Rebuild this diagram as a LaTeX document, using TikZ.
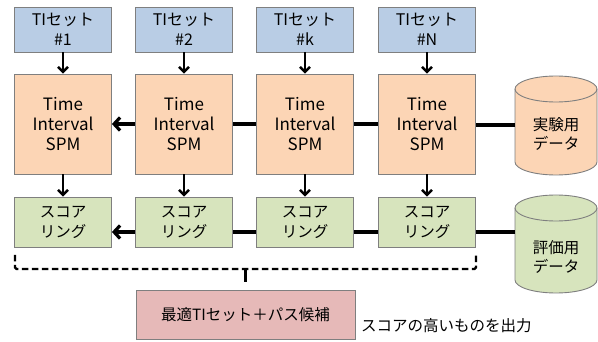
\documentclass[tikz,border=0pt]{standalone}
\usepackage{fontspec}
\setmainfont{Noto Sans CJK JP}
\usetikzlibrary{arrows.meta,calc}
\definecolor{tiblue}{HTML}{B9CDE5}
\definecolor{spmorange}{HTML}{FCD5B5}
\definecolor{scgreen}{HTML}{D7E4BD}
\definecolor{bestpink}{HTML}{E6B9B8}
\definecolor{edgegray}{HTML}{7F7F7F}
\tikzset{
  box/.style={draw=edgegray, line width=0.8pt, align=center, inner sep=0pt, font=\fontsize{15.5}{19.5}\selectfont},
  tibox/.style={box, fill=tiblue, minimum width=97pt, minimum height=45pt, font=\fontsize{16}{19.5}\selectfont},
  spmbox/.style={box, fill=spmorange, minimum width=97pt, minimum height=100pt, font=\fontsize{17}{20}\selectfont},
  scbox/.style={box, fill=scgreen, minimum width=97pt, minimum height=50pt, font=\fontsize{15.5}{20}\selectfont},
  bestbox/.style={box, fill=bestpink, minimum width=219pt, minimum height=49pt},
  dbnode/.style={align=center, inner sep=0pt, minimum width=82pt, font=\fontsize{15.5}{18.5}\selectfont},
  varrow/.style={line width=2.4pt, -{Straight Barb[length=5pt,width=10pt]}},
  harrow/.style={line width=3.2pt, -{Straight Barb[length=6pt,width=13pt]}},
  hline/.style={line width=3.2pt},
  bracket/.style={line width=2.4pt, dash pattern=on 6.5pt off 3.5pt, rounded corners=1.5pt},
  cyl/.style={draw=edgegray, line width=0.9pt}
}
\begin{document}
\begin{tikzpicture}[x=1pt,y=-1pt]
\useasboundingbox (0,0) rectangle (598,342);
% TI sets
\node[tibox] (t1) at (63,29.5) {TIセット\\\#1};
\node[tibox] (t2) at (184,29.5) {TIセット\\\#2};
\node[tibox] (t3) at (305,29.5) {TIセット\\\#k};
\node[tibox] (t4) at (427,29.5) {TIセット\\\#N};
% SPM boxes
\node[spmbox] (o1) at (63,124) {Time\\Interval\\SPM};
\node[spmbox] (o2) at (184,124) {Time\\Interval\\SPM};
\node[spmbox] (o3) at (305,124) {Time\\Interval\\SPM};
\node[spmbox] (o4) at (427,124) {Time\\Interval\\SPM};
% scoring boxes
\node[scbox] (g1) at (63,222) {スコア\\リング};
\node[scbox] (g2) at (184,222) {スコア\\リング};
\node[scbox] (g3) at (305,222) {スコア\\リング};
\node[scbox] (g4) at (427,222) {スコア\\リング};
% best box
\node[bestbox] (best) at (245.5,314.5) {最適TIセット＋パス候補};
\node[anchor=west, inner sep=0pt, font=\fontsize{15.5}{19}\selectfont] (note) at (361,326) {スコアの高いものを出力};
% cylinders
\fill[spmorange] (515,89) -- (515,162) arc[start angle=180,end angle=0,x radius=41,y radius=13] -- (597,89) arc[start angle=0,end angle=-180,x radius=41,y radius=13] -- cycle;
\draw[cyl] (515,89) -- (515,162) arc[start angle=180,end angle=0,x radius=41,y radius=13] -- (597,89);
\draw[cyl] (556,89) ellipse[x radius=41,y radius=13];
\node[dbnode] (db1) at (556,134) {実験用\\データ};
\fill[scgreen] (515,208) -- (515,280) arc[start angle=180,end angle=0,x radius=41,y radius=13] -- (597,208) arc[start angle=0,end angle=-180,x radius=41,y radius=13] -- cycle;
\draw[cyl] (515,208) -- (515,280) arc[start angle=180,end angle=0,x radius=41,y radius=13] -- (597,208);
\draw[cyl] (556,208) ellipse[x radius=41,y radius=13];
\node[dbnode] (db2) at (556,257) {評価用\\データ};
\coordinate (db1w) at (515,125);
\coordinate (db2w) at (515,232);
% vertical arrows
\foreach \i in {1,2,3,4} {
  \draw[varrow] (t\i.south) -- (o\i.north);
  \draw[varrow] (o\i.south) -- (g\i.north);
}
% horizontal chain SPM
\draw[hline] (db1w) -- (o4.east |- db1w);
\draw[hline] (o4.west) -- (o3.east);
\draw[hline] (o3.west) -- (o2.east);
\draw[harrow] (o2.west) -- (o1.east);
% horizontal chain scoring
\draw[hline] (db2w) -- (g4.east |- db2w);
\draw[hline] (g4.west |- db2w) -- (g3.east |- db2w);
\draw[hline] (g3.west |- db2w) -- (g2.east |- db2w);
\draw[harrow] (g2.west |- db2w) -- (g1.east |- db2w);
% bracket
\coordinate (bl) at (15,255);
\coordinate (br) at (476,255);
\draw[bracket] (bl) -- (15,269) -- (476,269) -- (br);
\draw[line width=2.4pt] (best.north |- 0,269) -- ++(0,13);
\end{tikzpicture}
\end{document}
